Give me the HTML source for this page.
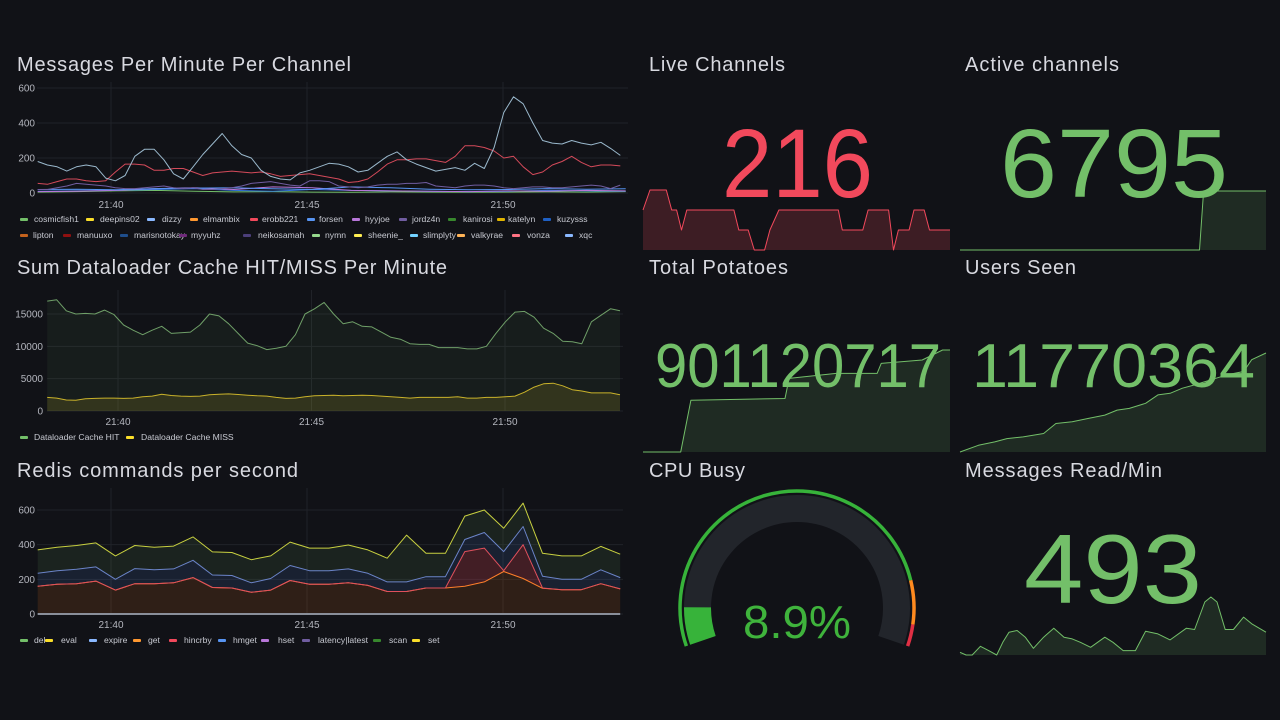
<!DOCTYPE html>
<html><head><meta charset="utf-8">
<style>
html,body{margin:0;padding:0;background:#111217;}
svg{display:block;font-family:"Liberation Sans",sans-serif;}
.title{fill:#d8d9e0;font-size:20px;}
.tick{fill:#b4b6be;font-size:10px;}
.leg{fill:#c8cad2;font-size:8.6px;}
</style></head>
<body>
<svg id="dash" width="1280" height="720" viewBox="0 0 1280 720" xmlns="http://www.w3.org/2000/svg">
<rect width="1280" height="720" fill="#111217"/>
<text class="title" x="17" y="71" textLength="334">Messages Per Minute Per Channel</text>
<text class="title" x="17" y="274" textLength="430">Sum Dataloader Cache HIT/MISS Per Minute</text>
<text class="title" x="17" y="477" textLength="281">Redis commands per second</text>
<text class="title" x="649" y="71" textLength="136">Live Channels</text>
<text class="title" x="965" y="71" textLength="154">Active channels</text>
<text class="title" x="649" y="274" textLength="139">Total Potatoes</text>
<text class="title" x="965" y="274" textLength="111">Users Seen</text>
<text class="title" x="649" y="477" textLength="96">CPU Busy</text>
<text class="title" x="965" y="477" textLength="197">Messages Read/Min</text>
<g id="layer"></g>
</svg>
<script>
// ---------- Chart 1: messages per minute per channel ----------
const c1Start = 38.13, c1Step = 0.2477;
const c1Ticks = [0, 200, 400, 600];
const c1TimeTicks = ["21:40", "21:45", "21:50"];
const c1TimeTickMins = [40, 45, 50];
const xqcVals = [180,160,150,125,150,160,150,85,70,100,210,250,250,190,110,80,150,220,280,340,270,220,200,130,95,80,75,115,130,150,170,165,150,120,130,170,210,235,190,165,145,125,135,145,130,170,140,260,460,550,510,400,300,285,280,300,285,275,290,255,215];
const erobbVals = [55,50,65,80,80,70,65,70,120,165,165,160,130,130,140,140,120,100,115,120,125,120,115,120,110,95,100,105,110,100,90,80,60,65,80,120,165,190,190,195,195,185,175,210,270,270,260,240,200,210,150,105,120,160,180,210,175,150,160,160,155];
const jordzVals = [20,20,30,40,55,50,45,40,30,25,25,30,35,40,30,25,30,20,20,25,30,40,55,60,65,55,45,40,70,70,65,40,35,30,35,45,50,50,55,55,60,40,35,30,40,45,45,40,30,25,30,35,35,30,30,35,40,45,40,25,45];
const minorStep = 1.0;
const forsenVals = [20,22,18,25,28,30,24,20,35,30,22,18,20,25,22,24];
const kuzyVals = [10,12,15,20,25,15,10,20,15,12,10,8,10,15,12,10];
const cosmicVals = [5,8,12,15,10,6,8,5,4,6,5,4,5,6,5,8];
const hyyVals = [8,10,15,25,30,20,35,30,15,12,10,8,12,10,15,12];

// ---------- Chart 2: dataloader cache ----------
const c2Start = 38.17, c2Step = 0.2467;
const c2Ticks = [0, 5000, 10000, 15000];
const hitVals = [17000,17200,15500,15000,15100,15000,15600,14900,13300,12500,11800,12500,13100,12000,12100,12200,13300,15000,14700,13500,12000,10500,10100,9500,9700,10000,11800,15000,15800,16800,15000,13500,13800,13100,13000,12200,11400,11100,10400,10300,10300,9800,9800,9800,9600,9600,10000,12000,13800,15300,15400,14500,12800,12000,10800,10700,10400,13800,14800,15800,15500];
const missVals = [2100,2000,1700,1650,1900,1950,2000,2000,1950,2000,2200,2300,2600,2400,2300,2250,2300,2500,2600,2650,2550,2450,2350,2300,2100,1950,2000,2200,2350,2400,2450,2350,2400,2450,2400,2300,2200,2100,2000,2100,2100,2100,2100,2200,2000,2000,2100,2100,2200,2300,2900,3700,4200,4300,3900,3300,3100,2800,2800,2800,2500,2400,2300,2300];

// ---------- Chart 3: redis commands (stacked) ----------
const c3Start = 38.13, c3Step = 0.4953;
const c3Ticks = [0, 200, 400, 600];
const getVals = [160,172,175,190,138,175,175,180,210,153,150,125,138,193,172,172,180,165,130,130,150,150,160,185,245,205,148,140,140,175,145];
const hincrbyVals = [0,0,0,0,0,0,0,0,0,0,0,0,0,0,0,0,0,0,0,0,0,0,200,195,5,195,2,0,0,0,0];
const hmgetTotals = [235,250,258,272,200,262,255,260,310,225,222,180,205,280,250,250,260,235,185,185,215,215,430,470,360,505,218,200,200,255,210];
const evalTotals = [370,385,395,410,335,395,385,392,445,358,355,313,335,415,380,380,398,370,322,455,350,350,565,600,495,640,350,335,335,390,345];

// ---------- Stat sparklines ----------
const liveT = [0,0.34,1.14,1.4,1.64,1.88,2.14,4.44,4.68,5.14,5.44,5.94,6.2,6.64,9.54,9.74,10.74,11.0,12.0,12.24,12.48,13.0,13.24,13.74,14.0,15];
const liveV = [217,218,218,217,217,216,217,217,216,216,215,215,216,217,217,216,216,217,217,215,216,216,217,217,216,216];
const activeT = [0,11.74,11.94,15];
const activeV = [6700,6700,6795,6795];
const potatoT = [0,1.84,2.34,6.94,7.14,9.44,11.44,11.64,13.64,14.64,15];
const potatoV = [901000000,901000000,901062000,901064000,901088000,901094000,901094000,901106000,901110000,901122000,901122000];
const usersT = [0,0.9,1.7,2.3,3.1,4.1,4.7,5.5,6.3,7.1,7.7,8.3,9.1,9.7,10.3,10.9,11.5,12.3,13.1,13.9,14.3,15];
const usersV = [11700000,11704800,11707200,11709600,11710800,11713200,11720400,11721600,11724000,11726400,11730000,11731200,11734800,11740800,11742000,11745600,11748000,11751600,11755200,11757600,11766000,11770800];
const readT = [0,0.3,0.6,1.0,1.4,1.8,2.1,2.4,2.8,3.2,3.6,4.1,4.6,5.1,5.5,5.9,6.4,7.1,7.5,8.0,8.6,9.1,9.7,10.3,11.1,11.5,12.0,12.3,12.6,13.0,13.4,13.9,14.3,15.0];
const readV = [270,254,254,306,280,254,330,390,400,360,294,360,414,360,350,330,300,360,330,280,280,396,380,344,414,406,570,600,570,406,406,480,440,390];
const cpuValue = 8.9;
const cpuThresholds = [0, 85, 95, 100];

const NS = "http://www.w3.org/2000/svg";
const layer = document.getElementById("layer");
function mk(tag, attrs, parent) {
  const e = document.createElementNS(NS, tag);
  for (const k in attrs) e.setAttribute(k, attrs[k]);
  (parent || layer).appendChild(e);
  return e;
}
function txt(str, x, y, cls, anchor) {
  const t = mk("text", {x: x, y: y, class: cls, "text-anchor": anchor || "start"});
  t.textContent = str;
  return t;
}

function timeAxis(x0, pxPerMin) { return m => x0 + (m - 40) * pxPerMin; }
function linAxis(y0, y1, v0, v1) { return v => y0 + (v - v0) / (v1 - v0) * (y1 - y0); }

function grid(xs, ys, left, right, top, bottom, yTicks, tickFmt, labelRight, timeLabelY) {
  yTicks.forEach(v => {
    const y = ys(v);
    const g = mk("line", {x1: left, x2: right, y1: y, y2: y, stroke: "#202228", "stroke-width": 1});
    
    
    const l = txt(tickFmt(v), labelRight, y + 3.5, "tick", "end");
    
    
  });
  c1TimeTickMins.forEach((m, i) => {
    const x = xs(m);
    const g = mk("line", {x1: x, x2: x, y1: top, y2: bottom, stroke: "#202228", "stroke-width": 1});
    
    
    const l = txt(c1TimeTicks[i], x, timeLabelY, "tick", "middle");
    
    
  });
}
function pts(vals, start, step, xs, ys) {
  return vals.map((v, i) => [xs(start + i * step), ys(v)]);
}
function pathOf(p) { return p.map((q, i) => (i ? "L" : "M") + q[0].toFixed(1) + " " + q[1].toFixed(1)).join(" "); }
function line(p, color, name, w) {
  const e = mk("path", {d: pathOf(p), fill: "none", stroke: color, "stroke-width": w || 1, "stroke-linejoin": "round"});
  
  
  return e;
}
function area(top, bottom, color, name) {
  const d = pathOf(top) + " " + bottom.slice().reverse().map(q => "L" + q[0].toFixed(1) + " " + q[1].toFixed(1)).join(" ") + " Z";
  const e = mk("path", {d: d, fill: color, stroke: "none"});
  
  
  return e;
}
function legend(items, y) {
  items.forEach(it => {
    const m = mk("rect", {x: it[0], y: y - 4, width: 8, height: 3, rx: 1, fill: it[2]});
    
    
    const t = txt(it[3], it[1], y, "leg");
    
    
  });
}

// ---- Chart 1 ----
(function(){
  const xs = timeAxis(111, 39.2);
  const ys = linAxis(193, 88, 0, 600);
  grid(xs, ys, 37, 628, 82, 193, c1Ticks, v => String(v), 35, 208);
  line(pts(cosmicVals, c1Start, minorStep, xs, ys), "#73bf69", "series-cosmicfish1");
  line(pts(kuzyVals, c1Start, minorStep, xs, ys), "#3274d9", "series-kuzysss");
  line(pts(hyyVals, c1Start, minorStep, xs, ys), "#b877d9", "series-hyyjoe");
  line(pts(forsenVals, c1Start, minorStep, xs, ys), "#5794f2", "series-forsen");
  line(pts(jordzVals, c1Start, c1Step, xs, ys), "#705da0", "series-jordz4n");
  line(pts(erobbVals, c1Start, c1Step, xs, ys), "#d44a5a", "series-erobb221");
  line(pts(xqcVals, c1Start, c1Step, xs, ys), "#9ab8cc", "series-xqc");
  legend([[20,34,"#73bf69","cosmicfish1"],[86,100,"#fade2a","deepins02"],[147,162,"#8ab8ff","dizzy"],[190,203,"#ff9830","elmambix"],[250,262,"#f2495c","erobb221"],[307,319,"#5794f2","forsen"],[352,365,"#b877d9","hyyjoe"],[399,412,"#705da0","jordz4n"],[448,463,"#37872d","kanirosi"],[497,508,"#e0b400","katelyn"],[543,557,"#1f60c4","kuzysss"]], 222);
  legend([[20,33,"#c4621d","lipton"],[63,77,"#8f1010","manuuxo"],[120,134,"#1f4e8c","marisnotokay"],[179,191,"#6e2a7a","myyuhz"],[243,258,"#4c3f7a","neikosamah"],[312,325,"#96d98d","nymn"],[354,368,"#ffee52","sheenie_"],[410,423,"#73d2ff","slimplyty"],[457,471,"#ffb357","valkyrae"],[512,527,"#ff7383","vonza"],[565,579,"#8ab8ff","xqc"]], 238);
})();

// ---- Chart 2 ----
(function(){
  const xs = timeAxis(118, 38.7);
  const ys = linAxis(411, 314, 0, 15000);
  grid(xs, ys, 47, 623, 290, 411, c2Ticks, v => String(v), 43, 425);
  const hit = pts(hitVals, c2Start, c2Step, xs, ys);
  const miss = pts(missVals.slice(0, hitVals.length), c2Start, c2Step, xs, ys);
  const base = hit.map(q => [q[0], ys(0)]);
  area(hit, base, "rgba(115,191,105,0.07)", "hit-area");
  area(miss, base, "rgba(250,222,42,0.12)", "miss-area");
  line(hit, "#6f9f68", "series-cache-hit");
  line(miss, "#c9b22a", "series-cache-miss");
  legend([[20,34,"#73bf69","Dataloader Cache HIT"],[126,141,"#fade2a","Dataloader Cache MISS"]], 440);
})();

// ---- Chart 3 ----
(function(){
  const xs = timeAxis(111, 39.2);
  const ys = linAxis(614, 510, 0, 600);
  grid(xs, ys, 37, 623, 488, 614, c3Ticks, v => String(v), 35, 628);
  const get = pts(getVals, c3Start, c3Step, xs, ys);
  const hinc = pts(getVals.map((v, i) => v + hincrbyVals[i]), c3Start, c3Step, xs, ys);
  const hm = pts(hmgetTotals, c3Start, c3Step, xs, ys);
  const ev = pts(evalTotals, c3Start, c3Step, xs, ys);
  const base = get.map(q => [q[0], ys(0)]);
  area(ev, hm, "rgba(115,191,105,0.10)", "eval-area");
  area(hm, hinc, "rgba(87,148,242,0.12)", "hmget-area");
  area(hinc, get, "rgba(242,73,92,0.22)", "hincrby-area");
  area(get, base, "rgba(255,120,20,0.13)", "get-area");
  line(base, "#8a8f9a", "series-del", 2);
  line(get, "#ff7f2a", "series-get");
  line(hinc, "#e0505c", "series-hincrby");
  line(hm, "#6b84c8", "series-hmget");
  line(ev, "#c8d040", "series-eval");
  legend([[20,34,"#73bf69","del"],[45,61,"#fade2a","eval"],[89,104,"#8ab8ff","expire"],[133,148,"#ff9830","get"],[169,184,"#f2495c","hincrby"],[218,233,"#5794f2","hmget"],[261,278,"#b877d9","hset"],[302,318,"#705da0","latency|latest"],[373,389,"#37872d","scan"],[412,428,"#fade2a","set"]], 643);
})();

// ---- Stat panels ----
function spark(T, V, x0, w, yTop, yBot, color, fill, name) {
  const lo = Math.min.apply(null, V), hi = Math.max.apply(null, V);
  const xs = t => x0 + t / 15 * w;
  const ys = v => yBot - (v - lo) / (hi - lo) * (yBot - yTop);
  const p = T.map((t, i) => [xs(t), ys(V[i])]);
  const d = pathOf(p) + " L" + xs(15) + " " + yBot + " L" + xs(0) + " " + yBot + " Z";
  const a = mk("path", {d: d, fill: fill});
  
  
  line(p, color, name + '-sparkline');
}
function bigValue(str, x, y, size, len, color, name) {
  const t = mk("text", {x: x, y: y, "font-size": size, fill: color, textLength: len, lengthAdjust: "spacingAndGlyphs"});
  t.textContent = str;
  
  
}
spark(liveT, liveV, 643, 307, 190, 250, "#f2495c", "rgba(242,73,92,0.2)", "live-channels");
bigValue("216", 722, 197, 97, 151, "#f2495c", "live-channels-value");
spark(activeT, activeV, 960, 306, 191, 250, "#73bf69", "rgba(115,191,105,0.15)", "active-channels");
bigValue("6795", 1000, 197, 97, 228, "#73bf69", "active-channels-value");
spark(potatoT, potatoV, 643, 307, 350, 452, "#73bf69", "rgba(115,191,105,0.15)", "total-potatoes");
bigValue("901120717", 655, 387, 62, 286, "#73bf69", "total-potatoes-value");
spark(usersT, usersV, 960, 306, 353, 452, "#73bf69", "rgba(115,191,105,0.15)", "users-seen");
bigValue("11770364", 972, 387, 62, 283, "#73bf69", "users-seen-value");
spark(readT, readV, 960, 306, 597, 655, "#73bf69", "rgba(115,191,105,0.15)", "messages-read");
bigValue("493", 1024, 603, 98, 178, "#73bf69", "messages-read-value");

// ---- Gauge ----
(function(){
  const cx = 797, cy = 608, startDeg = 199, sweep = 218;
  const ang = pct => (startDeg - pct / 100 * sweep) * Math.PI / 180;
  const pt = (r, pct) => [cx + r * Math.cos(ang(pct)), cy - r * Math.sin(ang(pct))];
  function arc(r, p0, p1, color, w, name) {
    const a = pt(r, p0), b = pt(r, p1);
    const large = (p1 - p0) / 100 * sweep > 180 ? 1 : 0;
    const e = mk("path", {d: "M" + a[0] + " " + a[1] + " A" + r + " " + r + " 0 " + large + " 1 " + b[0] + " " + b[1], fill: "none", stroke: color, "stroke-width": w});
    
    
  }
  arc(99.5, 0, 100, "#22252b", 27, "gauge-track");
  arc(99.5, 0, cpuValue, "#37b33a", 27, "gauge-value-arc");
  const cols = ["#37b33a", "#ff8a1f", "#e02f44"];
  for (let i = 0; i < 3; i++) arc(117, cpuThresholds[i], cpuThresholds[i + 1], cols[i], 3.5, "gauge-threshold-" + i);
  const t = mk("text", {x: cx, y: 638, "font-size": 46, fill: "#3fb33c", "text-anchor": "middle", textLength: 108, lengthAdjust: "spacingAndGlyphs"});
  t.textContent = cpuValue + "%";
  
  
})();
</script>
</body></html>
